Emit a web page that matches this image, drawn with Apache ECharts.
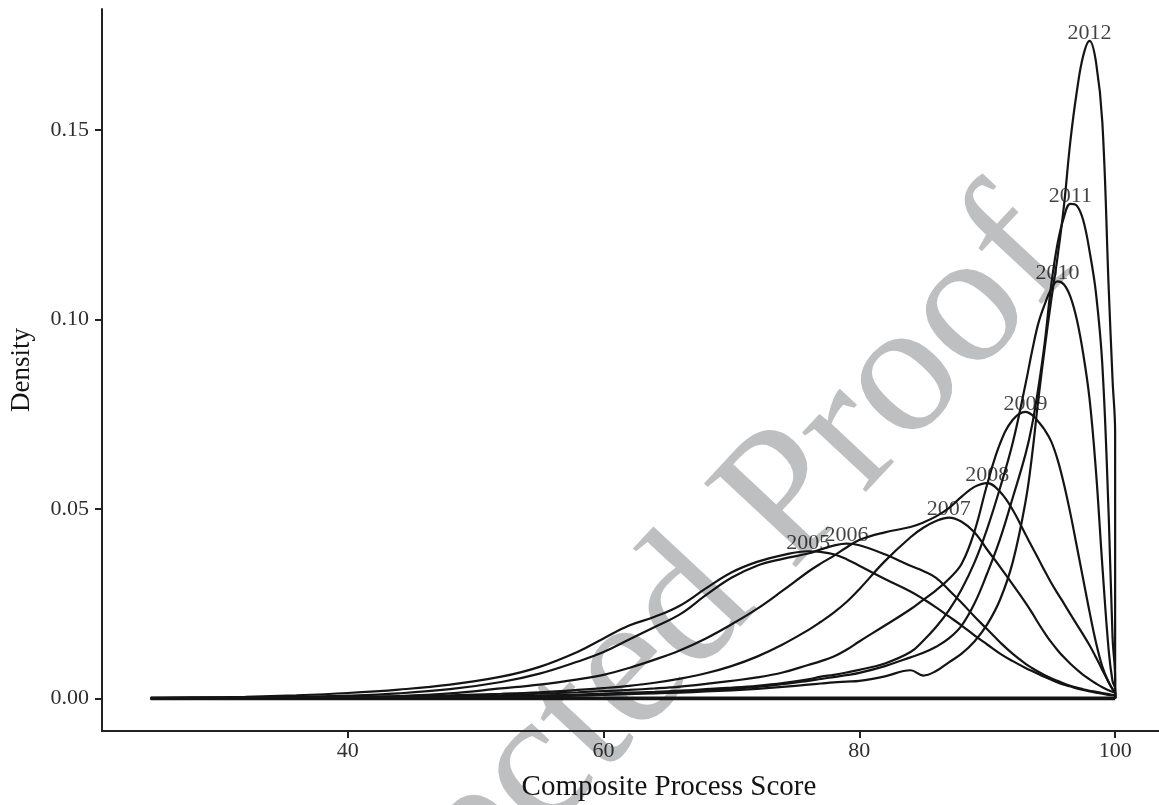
<!DOCTYPE html>
<html>
<head>
<meta charset="utf-8">
<title>Composite Process Score density</title>
<script src="https://cdn.jsdelivr.net/npm/echarts@6/dist/echarts.min.js"></script>
<style>
html, body { margin: 0; padding: 0; background: #fff; }
#chart { width: 1159px; height: 805px; }
</style>
</head>
<body>
<div id="chart"></div>
<script>
// x grid shared by all density curves
var scores = [24.6, 28, 32, 36, 40, 44, 48, 52, 55, 58, 60, 62, 64, 66, 68, 70, 72, 74, 76, 77, 78, 79, 80, 82, 84, 85,
    86, 87, 88, 89, 90, 91, 92, 93, 93.5, 94, 94.5, 95, 95.5, 96, 96.5, 97, 97.5, 98, 98.5, 99, 99.5, 99.8, 100];

var d2005 = [0.0001, 0.0002, 0.0004, 0.0008, 0.0014, 0.0023, 0.0036, 0.0057, 0.0083, 0.0123, 0.0158, 0.0192, 0.0215, 0.0245, 0.0290, 0.0332, 0.0360, 0.0378, 0.0388, 0.0386, 0.0380, 0.0367, 0.0350, 0.0315, 0.0282, 0.0262,
    0.0240, 0.0216, 0.0192, 0.0166, 0.0142, 0.0118, 0.0098, 0.0080, 0.0072, 0.0064, 0.0056, 0.0049, 0.0042, 0.0036, 0.0031, 0.0026, 0.0022, 0.0018, 0.0015, 0.0012, 0.0009, 0.0008, 0.0007];
var d2006 = [0.0000, 0.0001, 0.0002, 0.0004, 0.0007, 0.0013, 0.0024, 0.0043, 0.0065, 0.0097, 0.0122, 0.0155, 0.0188, 0.0222, 0.0272, 0.0318, 0.0350, 0.0368, 0.0382, 0.0393, 0.0403, 0.0408, 0.0404, 0.0380, 0.0350, 0.0336,
    0.0318, 0.0286, 0.0252, 0.0216, 0.0182, 0.0148, 0.0117, 0.0091, 0.0080, 0.0070, 0.0061, 0.0053, 0.0046, 0.0039, 0.0033, 0.0028, 0.0024, 0.0020, 0.0017, 0.0014, 0.0011, 0.0009, 0.0008];
var d2007 = [0.0000, 0.0001, 0.0001, 0.0002, 0.0003, 0.0005, 0.0008, 0.0012, 0.0016, 0.0022, 0.0027, 0.0033, 0.0041, 0.0052, 0.0066, 0.0085, 0.0110, 0.0142, 0.0180, 0.0202, 0.0226, 0.0254, 0.0288, 0.0362, 0.0425, 0.0450,
    0.0468, 0.0477, 0.0466, 0.0438, 0.0392, 0.0347, 0.0300, 0.0252, 0.0226, 0.0198, 0.0172, 0.0148, 0.0127, 0.0108, 0.0091, 0.0076, 0.0062, 0.0050, 0.0039, 0.0029, 0.0021, 0.0017, 0.0014];
var d2008 = [0.0000, 0.0001, 0.0001, 0.0002, 0.0003, 0.0006, 0.0013, 0.0026, 0.0036, 0.0050, 0.0062, 0.0080, 0.0102, 0.0127, 0.0158, 0.0195, 0.0236, 0.0284, 0.0334, 0.0356, 0.0376, 0.0398, 0.0418, 0.0438, 0.0452, 0.0464,
    0.0480, 0.0502, 0.0532, 0.0558, 0.0568, 0.0545, 0.0497, 0.0432, 0.0400, 0.0368, 0.0336, 0.0305, 0.0277, 0.0250, 0.0222, 0.0195, 0.0168, 0.0140, 0.0108, 0.0075, 0.0042, 0.0024, 0.0016];
var d2009 = [0.0000, 0.0000, 0.0001, 0.0001, 0.0002, 0.0003, 0.0005, 0.0008, 0.0012, 0.0016, 0.0019, 0.0022, 0.0026, 0.0031, 0.0038, 0.0046, 0.0055, 0.0068, 0.0088, 0.0098, 0.0110, 0.0128, 0.0150, 0.0192, 0.0235, 0.0260,
    0.0285, 0.0315, 0.0355, 0.0440, 0.0565, 0.0672, 0.0735, 0.0756, 0.0748, 0.0730, 0.0708, 0.0678, 0.0630, 0.0565, 0.0488, 0.0402, 0.0315, 0.0228, 0.0148, 0.0084, 0.0042, 0.0024, 0.0018];
var d2010 = [0.0000, 0.0000, 0.0000, 0.0001, 0.0001, 0.0002, 0.0003, 0.0005, 0.0007, 0.0010, 0.0012, 0.0015, 0.0017, 0.0020, 0.0024, 0.0028, 0.0033, 0.0040, 0.0050, 0.0057, 0.0062, 0.0068, 0.0075, 0.0092, 0.0122, 0.0152,
    0.0188, 0.0232, 0.0288, 0.0358, 0.0448, 0.0555, 0.0675, 0.0830, 0.0915, 0.0990, 0.1040, 0.1080, 0.1100, 0.1092, 0.1060, 0.1000, 0.0910, 0.0790, 0.0600, 0.0350, 0.0125, 0.0045, 0.0025];
var d2011 = [0.0000, 0.0000, 0.0000, 0.0001, 0.0001, 0.0002, 0.0003, 0.0004, 0.0006, 0.0008, 0.0010, 0.0012, 0.0015, 0.0018, 0.0021, 0.0025, 0.0030, 0.0037, 0.0046, 0.0051, 0.0056, 0.0061, 0.0067, 0.0085, 0.0108, 0.0120,
    0.0136, 0.0158, 0.0192, 0.0250, 0.0330, 0.0420, 0.0530, 0.0645, 0.0720, 0.0820, 0.0940, 0.1090, 0.1200, 0.1270, 0.1305, 0.1300, 0.1262, 0.1180, 0.1070, 0.0880, 0.0480, 0.0160, 0.0050];
var d2012 = [0.0000, 0.0000, 0.0000, 0.0000, 0.0001, 0.0001, 0.0002, 0.0003, 0.0005, 0.0007, 0.0009, 0.0011, 0.0013, 0.0015, 0.0018, 0.0021, 0.0025, 0.0030, 0.0036, 0.0039, 0.0042, 0.0044, 0.0046, 0.0058, 0.0074, 0.0060,
    0.0072, 0.0095, 0.0118, 0.0150, 0.0195, 0.0260, 0.0360, 0.0520, 0.0640, 0.0790, 0.0925, 0.1050, 0.1165, 0.1300, 0.1470, 0.1600, 0.1695, 0.1735, 0.1680, 0.1520, 0.1080, 0.0840, 0.0700];

var years = ['2005', '2006', '2007', '2008', '2009', '2010', '2011', '2012'];
var curves = [d2005, d2006, d2007, d2008, d2009, d2010, d2011, d2012];

var xTicks = [40, 60, 80, 100];
var yTicks = [0, 0.05, 0.10, 0.15];

var serif = '"Liberation Serif", "DejaVu Serif", serif';
var ink = '#141414';

function chart(id) {
    var myChart = echarts.init(document.getElementById(id));
    var last = scores.length - 1;

    var series = curves.map(function (ys, k) {
        var pts = scores.map(function (x, i) { return [x, ys[i]]; });
        pts.push([scores[last], 0]);   // polygon drops back to the baseline at 100
        return {
            name: years[k],
            type: 'line',
            data: pts,
            smooth: 0.4,
            symbol: 'none',
            silent: true,
            z: 3,
            lineStyle: { color: ink, width: 2.2 }
        };
    });

    // shared baseline of the density polygons
    series.push({
        type: 'line',
        data: [[scores[0], 0], [scores[last], 0]],
        symbol: 'none',
        silent: true,
        z: 3,
        lineStyle: { color: ink, width: 3.8 }
    });

    // year labels sit on top of each curve's peak
    var peaks = curves.map(function (ys, k) {
        var m = 0;
        ys.forEach(function (v, i) { if (v > ys[m]) m = i; });
        return [scores[m], ys[m], years[k]];
    });
    series.push({
        type: 'scatter',
        data: peaks,
        symbolSize: 0,
        silent: true,
        z: 4,
        label: {
            show: true,
            position: 'top',
            distance: -3,
            formatter: function (p) { return p.data[2]; },
            fontFamily: serif,
            fontSize: 22,
            color: ink
        }
    });

    var option = {
        animation: false,
        backgroundColor: '#ffffff',
        grid: {
            left: 102,
            right: 0,
            top: 9,
            bottom: 74,
            containLabel: false,
            outerBoundsMode: 'none'
        },
        graphic: [{
            type: 'text',
            x: 627,
            y: 675,
            rotation: 47 * Math.PI / 180,
            z: -10,
            silent: true,
            style: {
                text: 'Corrected Proof',
                font: 'normal 190px "Liberation Serif", serif',
                fill: '#bdbfc1',
                align: 'center',
                verticalAlign: 'middle'
            }
        }, {
            // x axis title, centred where the original panel centres it
            type: 'text',
            x: 669,
            y: 787,
            z: 10,
            silent: true,
            style: {
                text: 'Composite Process Score',
                font: 'normal 29px "Liberation Serif", serif',
                fill: ink,
                align: 'center',
                verticalAlign: 'middle'
            }
        }],
        xAxis: {
            type: 'value',
            min: 20.79,
            max: 103.43,
            axisLine: { show: true, onZero: false, lineStyle: { color: '#222', width: 2 } },
            axisTick: { show: true, customValues: xTicks, length: 7, lineStyle: { color: '#222', width: 2 } },
            axisLabel: {
                customValues: xTicks,
                margin: 9,
                fontFamily: serif,
                fontSize: 22,
                color: '#2e2e2e'
            },
            splitLine: { show: false }
        },
        yAxis: {
            type: 'value',
            min: -0.00863,
            max: 0.1819,
            name: 'Density',
            nameLocation: 'middle',
            nameGap: 67,
            nameRotate: 90,
            nameTextStyle: { fontFamily: serif, fontSize: 27, color: ink },
            axisLine: { show: true, onZero: false, lineStyle: { color: '#222', width: 2 } },
            axisTick: { show: true, customValues: yTicks, length: 7, lineStyle: { color: '#222', width: 2 } },
            axisLabel: {
                customValues: yTicks,
                margin: 13,
                formatter: function (v) { return v.toFixed(2); },
                fontFamily: serif,
                fontSize: 22,
                color: '#2e2e2e'
            },
            splitLine: { show: false }
        },
        series: series
    };

    myChart.setOption(option);
    return myChart;
}

var chartInit = chart('chart');
window.addEventListener('resize', function () { chartInit.resize(); });
</script>
</body>
</html>
